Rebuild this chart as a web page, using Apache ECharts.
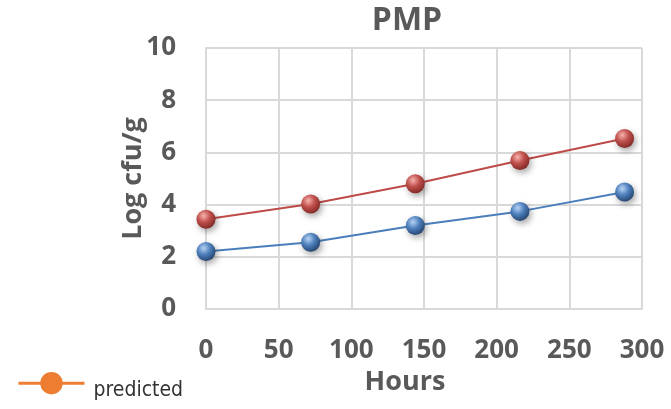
<!DOCTYPE html>
<html><head><meta charset="utf-8">
<script src="https://cdn.jsdelivr.net/npm/echarts@6/dist/echarts.min.js"></script>
<style>html,body{margin:0;padding:0;background:#fff}#c{width:671px;height:409px}</style>
</head><body><div id="c"></div>
<script>
const hours = [0, 72, 144, 216, 288];
const redValues = [3.44, 4.02, 4.80, 5.69, 6.53];
const blueValues = [2.20, 2.56, 3.20, 3.74, 4.48];
const legendName = 'predicted';
const titleText = 'PMP';
const xName = 'Hours';
const yName = 'Log cfu/g';

function sphere(light, mid, dark) {
  return {type: 'radial', x: 0.38, y: 0.32, r: 0.75,
    colorStops: [{offset: 0, color: light}, {offset: 0.45, color: mid}, {offset: 1, color: dark}]};
}
const FONT = '"Open Sans", Lato, sans-serif';
const lbl = {color: '#595959', fontWeight: 'bold', fontSize: 26, fontFamily: FONT};
const legendFont = '"DejaVu Sans Condensed", "Liberation Sans Narrow", Roboto, sans-serif';
const chart = echarts.init(document.getElementById('c'));
chart.setOption({
  animation: false,
  title: {text: titleText, left: 402, top: 0, textAlign: 'center',
    textStyle: {color: '#595959', fontWeight: 'bold', fontSize: 32, fontFamily: FONT}},
  legend: {data: [legendName], left: 12, top: 367, itemWidth: 66, itemHeight: 28, itemGap: 8,
    lineStyle: {width: 3},
    formatter: '{a|{name}}',
    textStyle: {color: '#333333', fontSize: 21, fontFamily: legendFont,
      rich: {a: {color: '#333333', fontSize: 21, fontFamily: legendFont, padding: [14, 0, 0, 4]}}}},
  grid: {left: 206, right: 29, top: 48, bottom: 100},
  xAxis: {type: 'value', min: 0, max: 300, interval: 50,
    name: xName, nameLocation: 'middle', nameGap: 51,
    nameTextStyle: Object.assign({}, lbl, {fontSize: 27, padding: [0, 38, 0, 0]}),
    axisLine: {show: true, lineStyle: {color: '#d9d9d9', width: 2}},
    axisTick: {show: false},
    splitLine: {show: true, lineStyle: {color: '#d9d9d9', width: 2}},
    axisLabel: Object.assign({}, lbl, {margin: 29})},
  yAxis: {type: 'value', min: 0, max: 10, interval: 2,
    name: yName, nameLocation: 'middle', nameGap: 59, nameRotate: 90, nameMoveOverlap: false,
    nameTextStyle: Object.assign({}, lbl, {fontSize: 27}),
    axisLine: {show: true, lineStyle: {color: '#d9d9d9', width: 2}},
    axisTick: {show: false},
    splitLine: {show: true, lineStyle: {color: '#d9d9d9', width: 2}},
    axisLabel: Object.assign({}, lbl, {margin: 30})},
  series: [
    {name: 'blue', type: 'line', data: hours.map((h, i) => [h, blueValues[i]]),
      symbol: 'circle', symbolSize: 19,
      lineStyle: {color: '#4a7ebb', width: 2},
      itemStyle: {color: sphere('#b8d3f5', '#4f81bd', '#1f3d66'), shadowBlur: 6, shadowColor: 'rgba(0,0,0,0.35)', shadowOffsetX: 2, shadowOffsetY: 3}},
    {name: 'red', type: 'line', data: hours.map((h, i) => [h, redValues[i]]),
      symbol: 'circle', symbolSize: 19,
      lineStyle: {color: '#be4b48', width: 2},
      itemStyle: {color: sphere('#f8b3ae', '#c0504d', '#7a2422'), shadowBlur: 6, shadowColor: 'rgba(0,0,0,0.35)', shadowOffsetX: 2, shadowOffsetY: 3}},
    {name: legendName, type: 'line', data: [], symbol: 'circle', symbolSize: 22,
      lineStyle: {color: '#ed7d31', width: 3}, itemStyle: {color: '#ed7d31'}}
  ]
});
</script></body></html>
